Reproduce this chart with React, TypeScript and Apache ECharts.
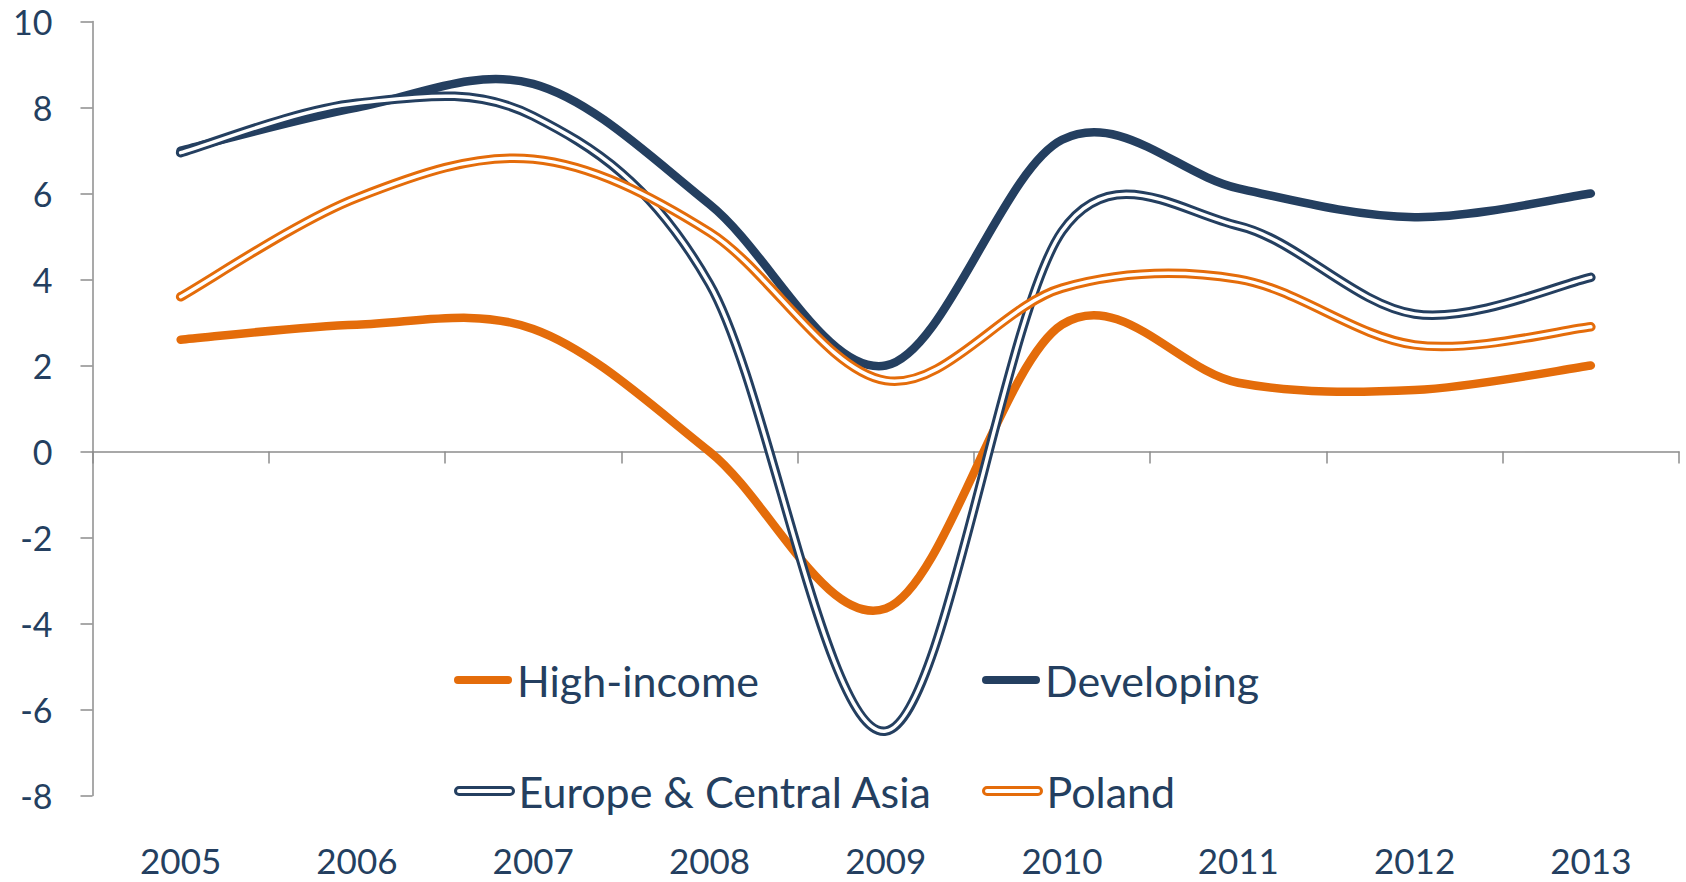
import React, { useEffect, useRef } from 'react';
import * as echarts from 'echarts';

const years = ['2005', '2006', '2007', '2008', '2009', '2010', '2011', '2012', '2013'];
const yTicks = { min: -8, max: 10, interval: 2 };
const highIncome = [2.6, 2.95, 2.85, 0.0, -3.65, 2.95, 1.6, 1.43, 2.0];
const developing = [7.0, 8.0, 8.55, 5.75, 2.0, 7.25, 6.12, 5.45, 6.0];
const europeCentralAsia = [6.95, 8.1, 7.8, 3.9, -6.5, 5.12, 5.25, 3.2, 4.05];
const poland = [3.6, 5.9, 6.8, 5.1, 1.65, 3.8, 4.01, 2.48, 2.9];

const NAVY = '#243F60';
const ORANGE = '#E46C0A';
const AXIS_GRAY = '#8C8C8C';
const FONT = 'Lato';

function capsule(w: number, h: number) {
  const r = h / 2;
  return `path://M${r},0L${w - r},0A${r},${r},0,0,1,${w - r},${h}L${r},${h}A${r},${r},0,0,1,${r},0Z`;
}

function dist(a: number[], b: number[]) {
  return Math.hypot(b[0] - a[0], b[1] - a[1]);
}

// Spreadsheet-style smoothed line: cubic Bezier segments whose control arms run
// parallel to the neighbour chord (1/6 of it), capped at half the segment length.
function smoothPath(pts: number[][]) {
  const n = pts.length;
  let d = `M${pts[0][0]},${pts[0][1]}`;
  for (let i = 0; i < n - 1; i++) {
    const p0 = pts[Math.max(i - 1, 0)];
    const p1 = pts[i];
    const p2 = pts[i + 1];
    const p3 = pts[Math.min(i + 2, n - 1)];
    const d02 = dist(p0, p2);
    const d12 = dist(p1, p2);
    const d13 = dist(p1, p3);
    const a0 = d02 > 0 ? Math.min(d02 / 6, d12 / 2) / d02 : 0;
    const a1 = d13 > 0 ? Math.min(d13 / 6, d12 / 2) / d13 : 0;
    const c1x = p1[0] + (p2[0] - p0[0]) * a0;
    const c1y = p1[1] + (p2[1] - p0[1]) * a0;
    const c2x = p2[0] - (p3[0] - p1[0]) * a1;
    const c2y = p2[1] - (p3[1] - p1[1]) * a1;
    d += `C${c1x},${c1y},${c2x},${c2y},${p2[0]},${p2[1]}`;
  }
  return d;
}

function lineSeries(name: string, values: number[], color: string, width: number, z: number) {
  return {
    type: 'custom',
    name,
    data: values.map((v, i) => [i, v]),
    encode: { x: 0, y: 1 },
    z,
    silent: true,
    clip: false,
    itemStyle: { color },
    renderItem: (params: any, api: any) => {
      if (params.dataIndex !== 0) return null;
      const pts = values.map((v, i) => api.coord([i, v]));
      return {
        type: 'path',
        shape: { pathData: smoothPath(pts) },
        style: { fill: 'none', stroke: color, lineWidth: width, lineCap: 'round', lineJoin: 'round' },
      };
    },
  };
}

const legendText = { color: NAVY, fontSize: 43, fontFamily: FONT, lineHeight: 50 };

function legendItem(name: string, left: number, top: number, hollow: boolean, color: string) {
  const h = hollow ? 7 : 8;
  return {
    left,
    top,
    padding: 0,
    itemWidth: 58,
    itemHeight: h,
    selectedMode: false,
    textStyle: legendText,
    data: [
      {
        name,
        icon: capsule(58, h),
        itemStyle: hollow
          ? { color: '#ffffff', borderColor: color, borderWidth: 3 }
          : { color, borderWidth: 0 },
      },
    ],
  };
}

export default function App() {
  const ref = useRef<HTMLDivElement>(null);
  useEffect(() => {
    if (!ref.current) return;
    const chart = echarts.init(ref.current, null, { renderer: 'svg' });
    const axisLineStyle = { color: AXIS_GRAY, width: 1.5 };
    chart.setOption({
      animation: false,
      backgroundColor: '#ffffff',
      grid: { left: 92.5, right: 7, top: 21.5, bottom: 86.4, containLabel: false },
      xAxis: [
        {
          type: 'category',
          data: years,
          boundaryGap: true,
          axisLine: { show: true, onZero: true, lineStyle: axisLineStyle },
          axisTick: { show: true, length: 12, lineStyle: axisLineStyle },
          axisLabel: { show: false },
          splitLine: { show: false },
        },
        {
          type: 'category',
          data: years,
          boundaryGap: true,
          position: 'bottom',
          axisLine: { show: false, onZero: false },
          axisTick: { show: false },
          splitLine: { show: false },
          axisLabel: {
            color: NAVY,
            fontSize: 35,
            fontFamily: FONT,
            margin: 64,
            verticalAlign: 'middle',
            lineHeight: 34,
          },
        },
      ],
      yAxis: {
        type: 'value',
        min: yTicks.min,
        max: yTicks.max,
        interval: yTicks.interval,
        axisLine: { show: true, lineStyle: axisLineStyle },
        axisTick: { show: true, length: 12, lineStyle: axisLineStyle },
        splitLine: { show: false },
        axisLabel: { color: NAVY, fontSize: 34, fontFamily: FONT, margin: 40 },
      },
      legend: [
        legendItem('High-income', 454, 655, false, ORANGE),
        legendItem('Developing', 982, 655, false, NAVY),
        legendItem('Europe & Central Asia', 454, 766, true, NAVY),
        legendItem('Poland', 982, 766, true, ORANGE),
      ],
      series: [
        lineSeries('High-income', highIncome, ORANGE, 8.5, 2),
        lineSeries('Developing', developing, NAVY, 8.5, 3),
        lineSeries('Europe & Central Asia', europeCentralAsia, NAVY, 9.5, 4),
        lineSeries('ECA inner', europeCentralAsia, '#ffffff', 3.5, 5),
        lineSeries('Poland', poland, ORANGE, 9.5, 6),
        lineSeries('Poland inner', poland, '#ffffff', 3.5, 7),
      ],
    });
    return () => chart.dispose();
  }, []);
  return (
    <div
      ref={ref}
      style={{ position: 'fixed', left: 0, top: 0, width: 1686, height: 882, background: '#fff' }}
    />
  );
}
